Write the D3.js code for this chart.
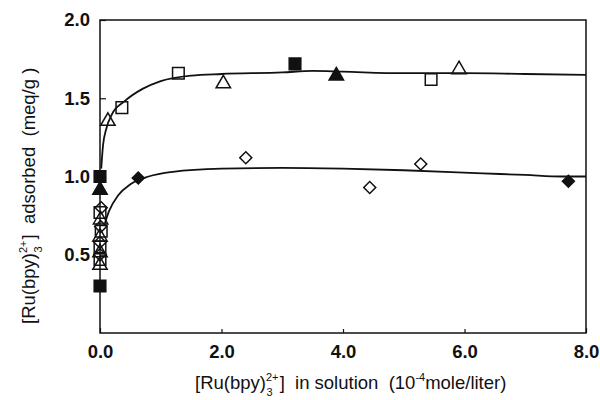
<!DOCTYPE html>
<html>
<head>
<meta charset="utf-8">
<script src="https://cdn.jsdelivr.net/npm/d3@7"></script>
<style>
  html, body { margin: 0; padding: 0; background: #fff; }
  svg { display: block; }
  text { font-family: "Liberation Sans", Arial, sans-serif; fill: #111; }
</style>
</head>
<body>
<svg id="chart" width="600" height="400"></svg>
<script>
// Adsorption isotherms of Ru(bpy)3 2+ : measured points by symbol and fitted curves

// x ticks and y ticks
const xTicks = [0, 2, 4, 6, 8];
const yTicks = [0.5, 1.0, 1.5, 2.0];

// open triangles
const openTriX = [0.13, 2.03, 5.91, 0.01, 0.0, 0.0, 0.0];
const openTriY = [1.36, 1.60, 1.69, 0.73, 0.62, 0.52, 0.44];

// open squares
const openSqX = [0.36, 1.29, 5.45, 0.0, 0.02, 0.0, 0.0];
const openSqY = [1.44, 1.66, 1.62, 0.77, 0.65, 0.55, 0.47];

// filled squares
const fillSqX = [0.0, 3.21, 0.0];
const fillSqY = [1.00, 1.72, 0.30];

// filled triangles
const fillTriX = [0.0, 3.89];
const fillTriY = [0.92, 1.65];

// open diamonds
const openDiaX = [2.40, 4.44, 5.28, 0.02, 0.01, 0.0, 0.0];
const openDiaY = [1.12, 0.93, 1.08, 0.80, 0.68, 0.58, 0.50];

// filled diamonds
const fillDiaX = [0.63, 7.71];
const fillDiaY = [0.99, 0.97];

// fitted curve, upper isotherm
const upperX = [0.02, 0.05, 0.1, 0.2, 0.4, 0.7, 1.0, 1.5, 2.0, 3.0, 3.5, 4.0, 5.0, 6.0, 7.0, 8.0];
const upperY = [1.05, 1.20, 1.30, 1.40, 1.48, 1.56, 1.61, 1.645, 1.655, 1.665, 1.675, 1.67, 1.66, 1.66, 1.655, 1.65];

// fitted curve, lower isotherm
const lowerX = [0.08, 0.15, 0.3, 0.5, 0.8, 1.2, 2.0, 3.0, 4.0, 5.0, 6.3, 7.0, 7.6, 8.0];
const lowerY = [0.70, 0.78, 0.88, 0.95, 1.00, 1.03, 1.05, 1.055, 1.05, 1.04, 1.02, 1.01, 1.00, 1.00];

const svg = d3.select("#chart");
const plot = { left: 100, right: 586, top: 20, bottom: 333 };

const x = d3.scaleLinear().domain([0, 8]).range([plot.left, plot.right]);
const y = d3.scaleLinear().domain([0, 2]).range([plot.bottom, plot.top]);

// frame
svg.append("rect")
  .attr("x", plot.left).attr("y", plot.top)
  .attr("width", plot.right - plot.left).attr("height", plot.bottom - plot.top)
  .attr("fill", "none").attr("stroke", "#111").attr("stroke-width", 1.5);

// axes with inward ticks
const yAxis = d3.axisLeft(y).tickValues(yTicks).tickFormat(d3.format(".1f"))
  .tickSize(-6).tickPadding(10);
const xAxis = d3.axisBottom(x).tickValues(xTicks).tickFormat(d3.format(".1f"))
  .tickSize(-5).tickPadding(12);

const gy = svg.append("g").attr("transform", `translate(${plot.left},0)`).call(yAxis);
const gx = svg.append("g").attr("transform", `translate(0,${plot.bottom})`).call(xAxis);
[gx, gy].forEach(g => {
  g.select(".domain").remove();
  g.selectAll(".tick line").attr("stroke", "#111").attr("stroke-width", 1.2);
  g.selectAll(".tick text")
    .attr("font-family", "Liberation Sans, Arial, sans-serif")
    .attr("font-size", 18.5).attr("font-weight", "bold").attr("fill", "#111");
});
gx.selectAll(".tick").filter(d => d === 2 || d === 4 || d === 6).select("line").attr("y2", -4);

// fitted curves
const line = d3.line().x(d => x(d[0])).y(d => y(d[1])).curve(d3.curveMonotoneX);
svg.append("path").datum(d3.zip(upperX, upperY))
  .attr("d", line).attr("fill", "none").attr("stroke", "#111").attr("stroke-width", 1.8);
svg.append("path").datum(d3.zip(lowerX, lowerY))
  .attr("d", line).attr("fill", "none").attr("stroke", "#111").attr("stroke-width", 1.8);

// markers: square, triangle, and a square turned 45 degrees for the diamond
const sq = d3.symbol().type(d3.symbolSquare).size(135)();
const tri = d3.symbol().type(d3.symbolTriangle).size(90)();
const dia = d3.symbol().type(d3.symbolSquare).size(72)();

function drawSet(xs, ys, path, filled, dy, rot) {
  svg.append("g").selectAll("path")
    .data(d3.zip(xs, ys))
    .join("path")
    .attr("d", path)
    .attr("transform", d => `translate(${x(d[0])},${y(d[1]) + (dy || 0)}) rotate(${rot || 0})`)
    .attr("fill", filled ? "#111" : "#fff")
    .attr("fill-opacity", filled ? 1 : 0)
    .attr("stroke", "#111")
    .attr("stroke-width", 1.5);
}

drawSet(openSqX, openSqY, sq, false);
drawSet(openTriX, openTriY, tri, false, 1);
drawSet(openDiaX, openDiaY, dia, false, 0, 45);
drawSet(fillSqX, fillSqY, sq, true);
drawSet(fillTriX, fillTriY, tri, true, 1);
drawSet(fillDiaX, fillDiaY, dia, true, 0, 45);

// axis titles with stacked super/subscripts
function ruLabel(t) {
  t.append("tspan").text("[Ru(bpy)");
  t.append("tspan").attr("font-size", 11).attr("dy", -8).text("2+");
  t.append("tspan").attr("font-size", 11).attr("dx", -12).attr("dy", 15).text("3");
  t.append("tspan").attr("dx", 7).attr("dy", -7).text("]");
}

const xt = svg.append("text")
  .attr("x", 195).attr("y", 389)
  .attr("font-size", 18.5);
ruLabel(xt);
xt.append("tspan").attr("xml:space", "preserve").text("  in solution  (10");
xt.append("tspan").attr("font-size", 11).attr("dy", -8).text("-4");
xt.append("tspan").attr("dy", 8).text("mole/liter)");

const yt = svg.append("text")
  .attr("transform", "translate(35,324) rotate(-90)")
  .attr("font-size", 18.5);
ruLabel(yt);
yt.append("tspan").attr("xml:space", "preserve").text("  adsorbed  (meq/g )");
</script>
</body>
</html>
